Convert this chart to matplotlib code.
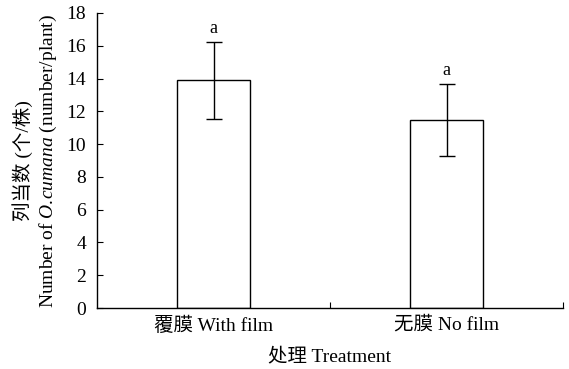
import numpy as np
import matplotlib.pyplot as plt

plt.rcParams['font.family'] = ['Liberation Serif', 'Noto Sans CJK SC']
plt.rcParams['mathtext.fontset'] = 'custom'
plt.rcParams['mathtext.it'] = 'Liberation Serif:italic'
plt.rcParams['mathtext.rm'] = 'Liberation Serif'

categories = ['覆膜 With film', '无膜 No film']
means = [13.9, 11.45]
errors = [2.35, 2.2]
letters = ['a', 'a']

fig = plt.figure(figsize=(5.69, 3.69), dpi=100)
ax = fig.add_axes([0.1705, 0.1653, 0.819, 0.7995])

x = np.arange(len(categories))
ax.bar(x, means, width=0.31, color='white', edgecolor='black', linewidth=1.0)
ax.errorbar(x, means, yerr=errors, fmt='none', ecolor='black',
            elinewidth=1.0, capsize=5.5, capthick=1.0)
for xi, m, e, l in zip(x, means, errors, letters):
    ax.text(xi, m + e + 0.3, l, ha='center', va='bottom', fontsize=13)

ax.set_xlim(-0.5, 1.5)
ax.set_ylim(0, 18)
ax.set_yticks(np.arange(0, 19, 2))
ax.set_xticks([0.5, 1.5])
ax.set_xticklabels([])
ax.set_xticks(x, minor=True)
ax.set_xticklabels(categories, minor=True)
ax.tick_params(axis='x', which='major', direction='in', length=4, width=0.8)
ax.tick_params(axis='x', which='minor', length=0, pad=6, labelsize=14)
ax.tick_params(axis='y', direction='in', length=4, width=0.8, pad=8, labelsize=14)

for s in ['top', 'right']:
    ax.spines[s].set_visible(False)
for s in ['left', 'bottom']:
    ax.spines[s].set_linewidth(1.0)

ax.set_xlabel('处理 Treatment', fontsize=14, labelpad=9)
ax.set_ylabel('列当数 (个/株)\nNumber of $\\it{O.\\!cumana}$ (number/plant)',
              fontsize=14, labelpad=5, linespacing=1.35)

fig.savefig('out.png', dpi=100)
